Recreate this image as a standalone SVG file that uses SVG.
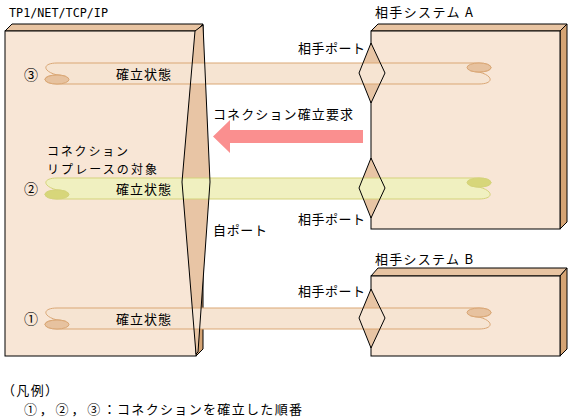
<svg xmlns="http://www.w3.org/2000/svg" width="571" height="419" viewBox="0 0 571 419">
<style>
.front{fill:#f8e6d6;stroke:#000;stroke-width:1}
.top{fill:#e8c4a2;stroke:#000;stroke-width:1}
.side{fill:#d5a474;stroke:#000;stroke-width:1}
.port{fill:#e8c5a5;stroke:none}
.outline{fill:none;stroke:#000;stroke-width:1}
.t{font-family:"Noto Sans CJK JP","Noto Sans",sans-serif;font-size:13px;fill:#000}
.s{font-family:"Noto Sans CJK JP","Noto Sans",sans-serif;font-size:12px;fill:#000}
.m{font-family:"DejaVu Sans Mono","Liberation Mono",monospace;font-size:13px;fill:#000}
.num{font-family:"Noto Sans CJK JP",sans-serif;font-size:14px;text-anchor:middle;fill:#000}
.tb{fill:#f6e4d2;stroke:#daa775;stroke-width:1}
.te{fill:#e7c29f;stroke:#daa775;stroke-width:1}
.yb{fill:#f0f0c0;stroke:#d5d37a;stroke-width:1}
.ye{fill:#d7d67a;stroke:#d5d37a;stroke-width:1}
</style>

<g id="node-tp1">
<polygon class="top" points="5,31 12,24 203,24 196,31"/>
<polygon class="side" points="196,31 203,24 203,349 196,356"/>
<rect class="front" x="5" y="31" width="191" height="325"/>
<path class="port" d="M195,31 L182,182 L196,354 L198,352 L210,182 L203,25 Z"/>
<text class="m" x="9" y="17" textLength="99" lengthAdjust="spacingAndGlyphs">TP1/NET/TCP/IP</text>
<text class="s" x="47" y="156" textLength="81">コネクション</text>
<text class="s" x="47" y="174" textLength="110">リプレースの対象</text>
<text class="t" x="213" y="235" textLength="54">自ポート</text>
</g>

<g id="node-sysA">
<polygon class="top" points="371,31 378,24 567,24 560,31"/>
<polygon class="side" points="560,31 567,24 567,222 560,229"/>
<rect class="front" x="371" y="31" width="189" height="198"/>
<path class="port" d="M371,43 L385,73 L371,103 L359,73 Z"/>
<path class="port" d="M371,158 L385,188 L371,218 L359,188 Z"/>
<text class="t" x="375" y="17" textLength="98">相手システム A</text>
<text class="t" x="298" y="53" textLength="67">相手ポート</text>
<text class="t" x="298" y="224" textLength="67">相手ポート</text>
</g>

<g id="node-sysB">
<polygon class="top" points="371,276 378,268 567,268 560,276"/>
<polygon class="side" points="560,276 567,268 567,349 560,356"/>
<rect class="front" x="371" y="276" width="189" height="80"/>
<path class="port" d="M371,289 L385,318 L371,348 L359,318 Z"/>
<text class="t" x="375" y="264" textLength="98">相手システム B</text>
<text class="t" x="298" y="296" textLength="67">相手ポート</text>
</g>

<g id="connectors">
<g id="conn3" transform="translate(0,63)">
<path class="tb" d="M57,0 H479 A12 4.5 0 0 1 491,4.5 A12 4.5 0 0 1 470,7.5 C494,10 496,21 479,21 H57 A12 4.5 0 0 1 45,16.5 A12 4.5 0 0 1 66,13.5 C42,11 40,0 57,0 Z"/>
<ellipse class="te" cx="57" cy="16.5" rx="12" ry="4.5"/>
<ellipse class="te" cx="479" cy="4.5" rx="12" ry="4.5"/>
</g>
<g id="conn2" transform="translate(0,178)">
<path class="yb" d="M57,0 H479 A12 4.5 0 0 1 491,4.5 A12 4.5 0 0 1 470,7.5 C494,10 496,21 479,21 H57 A12 4.5 0 0 1 45,16.5 A12 4.5 0 0 1 66,13.5 C42,11 40,0 57,0 Z"/>
<ellipse class="ye" cx="57" cy="16.5" rx="12" ry="4.5"/>
<ellipse class="ye" cx="479" cy="4.5" rx="12" ry="4.5"/>
</g>
<g id="conn1" transform="translate(0,308)">
<path class="tb" d="M57,0 H479 A12 4.5 0 0 1 491,4.5 A12 4.5 0 0 1 470,7.5 C494,10 496,21 479,21 H57 A12 4.5 0 0 1 45,16.5 A12 4.5 0 0 1 66,13.5 C42,11 40,0 57,0 Z"/>
<ellipse class="te" cx="57" cy="16.5" rx="12" ry="4.5"/>
<ellipse class="te" cx="479" cy="4.5" rx="12" ry="4.5"/>
</g>
<path id="req-arrow" d="M213,136.5 L230,120 L230,130 L363,130 L363,143 L230,143 L230,153 Z" fill="#fa8f8f"/>
</g>

<g id="port-outlines">
<path class="outline" d="M195,31 L182,182 L196,354 L198,352 L210,182 L203,25 Z"/>
<path class="outline" d="M371,43 L385,73 L371,103 L359,73 Z"/>
<path class="outline" d="M371,158 L385,188 L371,218 L359,188 Z"/>
<path class="outline" d="M371,289 L385,318 L371,348 L359,318 Z"/>
</g>

<g id="labels">
<text class="num" x="31" y="80">③</text>
<text class="num" x="31" y="194">②</text>
<text class="num" x="31" y="324">①</text>
<text class="t" x="116" y="79" textLength="55">確立状態</text>
<text class="t" x="116" y="194" textLength="55">確立状態</text>
<text class="t" x="116" y="324" textLength="55">確立状態</text>
<text class="t" x="213" y="119" textLength="140">コネクション確立要求</text>
<text class="t" x="2" y="395" textLength="56">（凡例）</text>
<text class="t" x="24" y="414" textLength="92">①，②，③：</text>
<text class="t" x="117" y="414" textLength="185">コネクションを確立した順番</text>
</g>
</svg>
